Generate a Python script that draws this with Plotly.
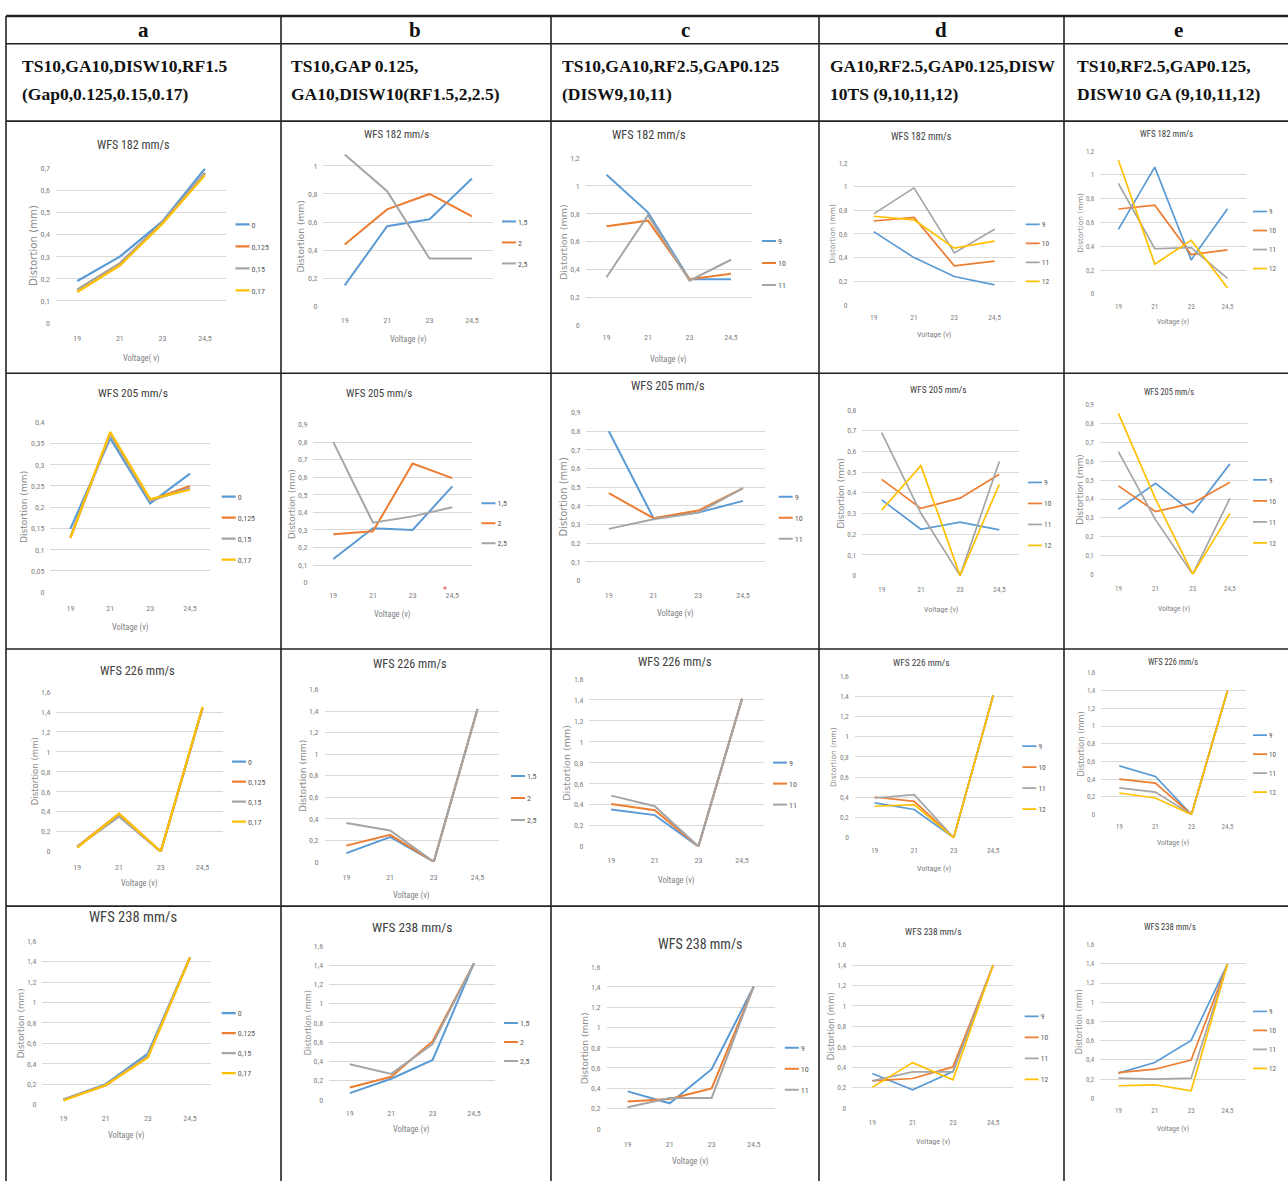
import plotly.graph_objects as go

W, H = 1288, 1186

# ---------------------------------------------------------------- data
VOLTAGE = ["19", "21", "23", "24,5"]
WFS = [182, 205, 226, 238]
COLUMNS = ["a", "b", "c", "d", "e"]

GAP_SERIES = ["0", "0,125", "0,15", "0,17"]
RF_SERIES = ["1,5", "2", "2,5"]
DISW_SERIES = ["9", "10", "11"]
TS_SERIES = ["9", "10", "11", "12"]
GA_SERIES = ["9", "10", "11", "12"]

# column a: gap 0 / 0.125 / 0.15 / 0.17
GAP_182 = [[0.19, 0.30, 0.46, 0.70], [0.15, 0.27, 0.455, 0.68],
           [0.15, 0.27, 0.455, 0.68], [0.14, 0.26, 0.45, 0.67]]
GAP_205 = [[0.149, 0.362, 0.209, 0.279], [0.128, 0.375, 0.216, 0.25],
           [0.13, 0.37, 0.215, 0.245], [0.128, 0.377, 0.219, 0.241]]
GAP_226 = [[0.05, 0.36, 0.0, 1.44], [0.05, 0.38, 0.0, 1.44],
           [0.05, 0.35, 0.0, 1.44], [0.04, 0.38, 0.0, 1.45]]
GAP_238 = [[0.05, 0.20, 0.50, 1.44], [0.05, 0.19, 0.47, 1.44],
           [0.05, 0.19, 0.48, 1.44], [0.04, 0.19, 0.46, 1.44]]

# column b: RF 1.5 / 2 / 2.5
RF_182 = [[0.15, 0.57, 0.62, 0.91], [0.44, 0.69, 0.80, 0.64], [1.08, 0.82, 0.34, 0.34]]
RF_205 = [[0.134, 0.31, 0.30, 0.548], [0.275, 0.292, 0.678, 0.595], [0.80, 0.341, 0.377, 0.429]]
RF_226 = [[0.08, 0.23, 0.0, 1.42], [0.15, 0.25, 0.0, 1.42], [0.36, 0.29, 0.0, 1.42]]
RF_238 = [[0.07, 0.22, 0.415, 1.42], [0.13, 0.24, 0.61, 1.42], [0.37, 0.27, 0.58, 1.42]]

# column c: DISW 9 / 10 / 11
DISW_182 = [[1.08, 0.81, 0.33, 0.33], [0.71, 0.75, 0.33, 0.37], [0.345, 0.79, 0.32, 0.47]]
DISW_205 = [[0.80, 0.334, 0.364, 0.427], [0.468, 0.334, 0.375, 0.495], [0.277, 0.329, 0.364, 0.495]]
DISW_226 = [[0.353, 0.30, 0.0, 1.41], [0.407, 0.347, 0.0, 1.41], [0.486, 0.385, 0.0, 1.41]]
DISW_238 = [[0.369, 0.251, 0.588, 1.404], [0.268, 0.294, 0.398, 1.404], [0.212, 0.304, 0.304, 1.404]]

# column d: TS 9 / 10 / 11 / 12
TS_182 = [[0.62, 0.40, 0.24, 0.17], [0.71, 0.74, 0.33, 0.37],
          [0.77, 0.99, 0.44, 0.64], [0.75, 0.72, 0.48, 0.54]]
TS_205 = [[0.366, 0.224, 0.258, 0.221], [0.465, 0.325, 0.374, 0.49],
          [0.691, 0.301, 0.0, 0.551], [0.317, 0.531, 0.0, 0.441]]
TS_226 = [[0.344, 0.279, 0.0, 1.41], [0.403, 0.36, 0.0, 1.41],
          [0.393, 0.426, 0.0, 1.41], [0.311, 0.328, 0.0, 1.41]]
TS_238 = [[0.339, 0.181, 0.359, 1.40], [0.268, 0.291, 0.404, 1.40],
          [0.268, 0.355, 0.355, 1.40], [0.204, 0.446, 0.278, 1.40]]

# column e: GA 9 / 10 / 11 / 12
GA_182 = [[0.543, 1.066, 0.286, 0.717], [0.714, 0.746, 0.331, 0.371],
          [0.929, 0.38, 0.389, 0.131], [1.123, 0.251, 0.451, 0.051]]
GA_205 = [[0.346, 0.484, 0.328, 0.587], [0.47, 0.333, 0.378, 0.489],
          [0.652, 0.289, 0.0, 0.404], [0.856, 0.40, 0.0, 0.324]]
GA_226 = [[0.55, 0.43, 0.0, 1.40], [0.40, 0.355, 0.0, 1.40],
          [0.30, 0.254, 0.0, 1.40], [0.243, 0.187, 0.0, 1.40]]
GA_238 = [[0.262, 0.372, 0.602, 1.397], [0.268, 0.303, 0.399, 1.397],
          [0.21, 0.20, 0.21, 1.397], [0.131, 0.141, 0.079, 1.397]]

SERIES_NAMES = {"a": GAP_SERIES, "b": RF_SERIES, "c": DISW_SERIES,
                "d": TS_SERIES, "e": GA_SERIES}
VALUES = {
    "a182": GAP_182, "a205": GAP_205, "a226": GAP_226, "a238": GAP_238,
    "b182": RF_182, "b205": RF_205, "b226": RF_226, "b238": RF_238,
    "c182": DISW_182, "c205": DISW_205, "c226": DISW_226, "c238": DISW_238,
    "d182": TS_182, "d205": TS_205, "d226": TS_226, "d238": TS_238,
    "e182": GA_182, "e205": GA_205, "e226": GA_226, "e238": GA_238,
}

COLUMN_DESCRIPTIONS = [
    ["TS10,GA10,DISW10,RF1.5", "(Gap0,0.125,0.15,0.17)"],
    ["TS10,GAP 0.125,", "GA10,DISW10(RF1.5,2,2.5)"],
    ["TS10,GA10,RF2.5,GAP0.125", "(DISW9,10,11)"],
    ["GA10,RF2.5,GAP0.125,DISW", "10TS (9,10,11,12)"],
    ["TS10,RF2.5,GAP0.125,", "DISW10 GA (9,10,11,12)"],
]

# ---------------------------------------------------------------- styling
COLORS = ["#5B9BD5", "#ED7D31", "#A5A5A5", "#FFC000"]
NARROW = "Liberation Sans Narrow, Arial Narrow, Roboto Condensed, DejaVu Sans Condensed, sans-serif"
WIDE = "DejaVu Sans, Verdana, sans-serif"
SERIF = "Liberation Serif, Times New Roman, serif"
LINE_W = {"a": 2.2, "b": 2.0, "c": 2.0, "d": 1.7, "e": 1.7}
TICK_SIZE = {"a": 8, "b": 8, "c": 8, "d": 7.5, "e": 7}
Y_STANDOFF = 5

# table grid (page pixels)
COL_EDGES = [6, 281, 551, 819, 1064]
ROW_EDGES = [12, 40, 118, 372, 650, 909]
HEADER_X = [143, 415, 685, 941, 1178]
DESC_X = [20, 289, 560, 828, 1075]

# per-panel geometry in page pixels
# c0/c3: first/last category centre, y0: value 0, yt: top tick, top/step: tick range,
# ymax: axis max, tx/ty/ts: title, ytx/yts: y-title, xty: x-title, tly: tick-label row,
# lx/ly/lp: legend label start, first entry, pitch
GEOM = {
    "a182": dict(c0=77.3, c3=205, y0=321.3, yt=165.7, top=0.7, step=0.1, ymax=0.7,
                 tx=132.5, ty=142, ts=12, ytx=35, yts=13.8, xty=357, tly=338,
                 lx=251.5, ly=222, lp=22),
    "b182": dict(c0=344.7, c3=472, y0=304.7, yt=163, top=1.0, step=0.2, ymax=1.1,
                 tx=396.4, ty=132, ts=10.8, ytx=303, yts=12.3, xty=338, tly=319.7,
                 lx=518, ly=219, lp=21.5),
    "c182": dict(c0=606.5, c3=731, y0=323.8, yt=155, top=1.2, step=0.2, ymax=1.2,
                 tx=648.8, ty=132, ts=12.2, ytx=570, yts=12.9, xty=358, tly=337.5,
                 lx=778, ly=238.7, lp=21.6),
    "d182": dict(c0=873.7, c3=994.6, y0=303.2, yt=160.2, top=1.2, step=0.2, ymax=1.2,
                 tx=921.7, ty=134, ts=10.0, ytx=834.6, yts=10.0, xty=333.4, tly=317,
                 lx=1041.7, ly=222, lp=18.5),
    "e182": dict(c0=1118.4, c3=1227.5, y0=292.2, yt=148.2, top=1.2, step=0.2, ymax=1.2,
                 tx=1166.4, ty=131, ts=8.8, ytx=1084, yts=8.6, xty=320.4, tly=305.6,
                 lx=1269, ly=209, lp=18),
    "a205": dict(c0=70.4, c3=190, y0=592.7, yt=421.3, top=0.4, step=0.05, ymax=0.4,
                 tx=132.5, ty=392, ts=11.6, ytx=29, yts=12.3, xty=628, tly=609.7,
                 lx=237.7, ly=496.3, lp=21.3),
    "b205": dict(c0=333.3, c3=452.3, y0=583, yt=423.7, top=0.9, step=0.1, ymax=0.9,
                 tx=379, ty=392, ts=11, ytx=294, yts=11.9, xty=614.7, tly=596.3,
                 lx=497.5, ly=503, lp=20),
    "c205": dict(c0=608.8, c3=743, y0=581, yt=411.6, top=0.9, step=0.1, ymax=0.9,
                 tx=667.6, ty=385.4, ts=12.2, ytx=566.5, yts=13.5, xty=613.9, tly=596.4,
                 lx=794.7, ly=496.3, lp=21.4),
    "d205": dict(c0=881.7, c3=999.3, y0=576, yt=409, top=0.8, step=0.1, ymax=0.8,
                 tx=938, ty=388.8, ts=9.4, ytx=841.7, yts=12.0, xty=610, tly=590.4,
                 lx=1044, ly=482, lp=21.2),
    "e205": dict(c0=1118.4, c3=1229.9, y0=574.6, yt=404, top=0.9, step=0.1, ymax=0.9,
                 tx=1168.7, ty=390.5, ts=8.3, ytx=1084, yts=12.0, xty=608.9, tly=590,
                 lx=1269, ly=479.5, lp=20.7),
    "a226": dict(c0=77.3, c3=202.5, y0=854, yt=693.3, top=1.6, step=0.2, ymax=1.6,
                 tx=137.7, ty=671.7, ts=12.4, ytx=36, yts=11.6, xty=886.7, tly=870,
                 lx=248, ly=763.3, lp=20.2),
    "b226": dict(c0=346.4, c3=477.5, y0=864.3, yt=690.7, top=1.6, step=0.2, ymax=1.6,
                 tx=410, ty=665, ts=12.2, ytx=305, yts=12.3, xty=898.3, tly=880,
                 lx=527, ly=777.7, lp=21.7),
    "c226": dict(c0=611.2, c3=742, y0=849, yt=680, top=1.6, step=0.2, ymax=1.6,
                 tx=674.7, ty=663.3, ts=12.2, ytx=571, yts=12.9, xty=882.7, tly=863.3,
                 lx=789, ly=764.3, lp=20.8),
    "d226": dict(c0=874.6, c3=993.2, y0=840, yt=677.3, top=1.6, step=0.2, ymax=1.6,
                 tx=921.7, ty=663.3, ts=9.4, ytx=838, yts=9.7, xty=871.6, tly=854,
                 lx=1038.4, ly=747.7, lp=20.5),
    "e226": dict(c0=1119.3, c3=1227.5, y0=816.7, yt=674, top=1.6, step=0.2, ymax=1.6,
                 tx=1173.4, ty=663.3, ts=8.3, ytx=1084, yts=11.1, xty=845, tly=829,
                 lx=1269, ly=736.6, lp=18),
    "a238": dict(c0=63.5, c3=190, y0=1109, yt=944.3, top=1.6, step=0.2, ymax=1.6,
                 tx=132.5, ty=920, ts=14.6, ytx=22, yts=11.9, xty=1140, tly=1123,
                 lx=237.7, ly=1016.7, lp=20.3),
    "b238": dict(c0=349.8, c3=474, y0=1104.3, yt=949, top=1.6, step=0.2, ymax=1.6,
                 tx=412, ty=930.7, ts=13.3, ytx=310, yts=11.1, xty=1134, tly=1118.3,
                 lx=520, ly=1026.7, lp=19.2),
    "c238": dict(c0=627.6, c3=753.7, y0=1133.3, yt=970, top=1.6, step=0.2, ymax=1.6,
                 tx=699.6, ty=946.7, ts=14, ytx=587.6, yts=12.2, xty=1166, tly=1149.3,
                 lx=800.8, ly=1051.7, lp=20.5),
    "d238": dict(c0=872.3, c3=993.2, y0=1112.7, yt=947.7, top=1.6, step=0.2, ymax=1.6,
                 tx=933.5, ty=935, ts=9.4, ytx=834.6, yts=11.6, xty=1145.7, tly=1127.3,
                 lx=1040.7, ly=1020, lp=20.8),
    "e238": dict(c0=1118.4, c3=1227.5, y0=1102.7, yt=947.7, top=1.6, step=0.2, ymax=1.6,
                 tx=1170, ty=930, ts=8.6, ytx=1081.7, yts=11.1, xty=1132.7, tly=1116,
                 lx=1269, ly=1015, lp=19.4),
}
X_TITLES = {"a182": "Voltage( v)"}


def fx(px):
    return px / W


def fy(py):
    return 1 - py / H


def label_width(text, size):
    # rough advance width of a numeric tick label
    return sum(0.28 if ch == "," else 0.55 for ch in text) * size


fig = go.Figure()
layout = {}
annotations = []
shapes = []

for r, wfs in enumerate(WFS):
    for c, col in enumerate(COLUMNS):
        n = r * 5 + c + 1
        key = f"{col}{wfs}"
        g = GEOM[key]
        sfx = "" if n == 1 else str(n)
        legend_id = "legend" + sfx
        tick_size = TICK_SIZE[col]

        for j, (name, vals) in enumerate(zip(SERIES_NAMES[col], VALUES[key])):
            fig.add_trace(go.Scatter(
                x=VOLTAGE, y=vals, name=name, mode="lines",
                line=dict(color=COLORS[j], width=LINE_W[col]),
                xaxis="x" + sfx, yaxis="y" + sfx,
                legend=legend_id, legendgroup=f"{key}-{j}",
                hoverinfo="skip",
            ))

        pitch = (g["c3"] - g["c0"]) / 3
        x0, x1 = g["c0"] - pitch / 2, g["c3"] + pitch / 2
        top_px = g["y0"] - (g["y0"] - g["yt"]) * g["ymax"] / g["top"]
        nt = int(round(g["top"] / g["step"]))
        tickvals = [round(k * g["step"], 4) for k in range(nt + 1)]
        ticktext = [f"{v:g}".replace(".", ",") for v in tickvals]

        layout["xaxis" + sfx] = dict(
            domain=[fx(x0), fx(x1)], anchor="y" + sfx, type="category",
            categoryorder="array", categoryarray=VOLTAGE, range=[-0.5, 3.5],
            showgrid=False, zeroline=False, showline=False, ticks="",
            tickfont=dict(family=NARROW, size=tick_size, color="#7F7F7F"),
            ticklabelstandoff=int(round(max(0, g["tly"] - g["y0"] - tick_size * 0.9))),
            fixedrange=True,
        )
        layout["yaxis" + sfx] = dict(
            domain=[fy(g["y0"]), fy(top_px)], anchor="x" + sfx,
            range=[0, g["ymax"] * 1.0005], tickmode="array",
            tickvals=tickvals, ticktext=ticktext,
            showgrid=True, gridcolor="#D9D9D9", gridwidth=1,
            zeroline=False, showline=False, ticks="",
            tickfont=dict(family=NARROW, size=tick_size, color="#7F7F7F"),
            ticklabelstandoff=Y_STANDOFF, fixedrange=True,
        )
        layout[legend_id] = dict(
            x=fx(g["lx"] - 40), xanchor="left",
            y=fy(g["ly"] - 14.5), yanchor="top",
            bgcolor="rgba(0,0,0,0)", borderwidth=0,
            font=dict(family=NARROW, size=tick_size, color="#595959"),
            traceorder="grouped", tracegroupgap=max(0, round(g["lp"] - 19)),
            itemclick=False, itemdoubleclick=False,
        )

        # chart title
        annotations.append(dict(
            text=f"WFS {wfs} mm/s", x=fx(g["tx"]), y=fy(g["ty"]),
            xref="paper", yref="paper", xanchor="center", yanchor="middle",
            showarrow=False, font=dict(family=NARROW, size=g["ts"], color="#404040"),
        ))
        # y-axis title, kept clear of the widest tick label
        yt_size = max(7.5, g["yts"] * 0.74)
        widest = max(label_width(t, tick_size) for t in ticktext)
        yt_x = min(g["ytx"], x0 - Y_STANDOFF - widest - 2 - yt_size * 0.45)
        annotations.append(dict(
            text="Distortion (mm)", x=fx(yt_x), y=fy((g["y0"] + g["yt"]) / 2),
            xref="paper", yref="paper", xanchor="center", yanchor="middle",
            textangle=-90, showarrow=False,
            font=dict(family=WIDE, size=yt_size, color="#8C8C8C"),
        ))
        # x-axis title
        annotations.append(dict(
            text=X_TITLES.get(key, "Voltage (v)"), x=fx((x0 + x1) / 2), y=fy(g["xty"]),
            xref="paper", yref="paper", xanchor="center", yanchor="middle",
            showarrow=False, font=dict(family=NARROW, size=tick_size + 0.5, color="#7F7F7F"),
        ))

# stray red mark beside the 24,5 label of the WFS 205 chart in column b
annotations.append(dict(
    text="*", x=fx(445), y=fy(591), xref="paper", yref="paper",
    showarrow=False, font=dict(family=WIDE, size=8, color="#E0303A"),
))

# table header and description rows
for c, col in enumerate(COLUMNS):
    annotations.append(dict(
        text=f"<b>{col}</b>", x=fx(HEADER_X[c]), y=fy(26),
        xref="paper", yref="paper", xanchor="center", yanchor="middle",
        showarrow=False, font=dict(family=SERIF, size=21, color="#111111"),
    ))
    for k, line in enumerate(COLUMN_DESCRIPTIONS[c]):
        annotations.append(dict(
            text=f"<b>{line}</b>", x=fx(DESC_X[c]), y=fy(62 + 29 * k),
            xref="paper", yref="paper", xanchor="left", yanchor="middle",
            showarrow=False, font=dict(family=SERIF, size=17.5, color="#111111"),
        ))

# table rules
for i, yy in enumerate(ROW_EDGES):
    shapes.append(dict(type="line", xref="paper", yref="paper",
                       x0=fx(COL_EDGES[0]), x1=1, y0=fy(yy), y1=fy(yy),
                       line=dict(color="#222222", width=2.5 if i == 0 else 1.6)))
for xx in COL_EDGES:
    shapes.append(dict(type="line", xref="paper", yref="paper",
                       x0=fx(xx), x1=fx(xx), y0=fy(ROW_EDGES[0]), y1=0,
                       line=dict(color="#222222", width=1.6)))

fig.update_layout(
    width=W, height=H, autosize=False,
    margin=dict(l=0, r=0, t=0, b=0, pad=0),
    paper_bgcolor="white", plot_bgcolor="rgba(0,0,0,0)",
    separators=",.", showlegend=True,
    annotations=annotations, shapes=shapes,
    **layout,
)

# short legend keys, drawn just in front of each label
SHORT_KEYS = """
var gd = document.getElementById('{plot_id}');
function shortenLegendKeys() {
  gd.querySelectorAll('.legendlines path').forEach(function (p) {
    p.setAttribute('d', 'M24,0h14');
  });
}
shortenLegendKeys();
gd.on('plotly_afterplot', shortenLegendKeys);
"""

fig.write_html("out.html", config={"displayModeBar": False}, post_script=SHORT_KEYS)
